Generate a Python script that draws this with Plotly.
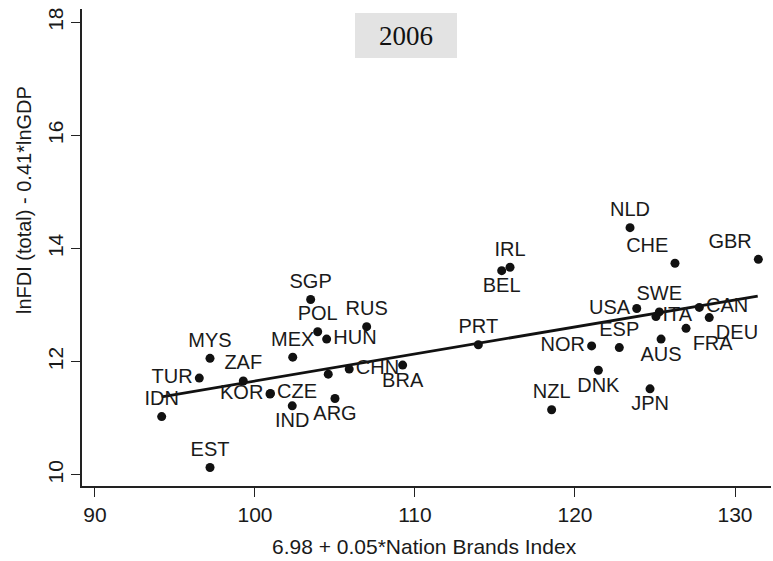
import plotly.graph_objects as go

countries = ["IDN", "TUR", "MYS", "ZAF", "KOR", "CZE", "IND", "ARG", "MEX", "SGP",
             "POL", "HUN", "RUS", "", "CHN", "BRA", "EST", "NLD", "CHE", "GBR",
             "IRL", "BEL", "PRT", "USA", "SWE", "ITA", "CAN", "DEU", "FRA", "AUS",
             "ESP", "NOR", "DNK", "NZL", "JPN"]
nbi = [94.17, 96.52, 97.19, 99.27, 100.94, 100.97, 102.33, 105.00, 102.36, 103.48,
       103.92, 104.48, 106.98, 104.58, 105.89, 109.23, 97.19, 123.44, 126.25, 131.46,
       115.94, 115.42, 113.96, 123.86, 125.27, 125.06, 127.77, 128.39, 126.94, 125.38,
       122.77, 121.04, 121.46, 118.54, 124.69]
fdi = [11.03, 11.71, 12.06, 11.66, 11.43, 11.44, 11.22, 11.35, 12.08, 13.10,
       12.53, 12.40, 12.62, 11.78, 11.87, 11.94, 10.13, 14.37, 13.74, 13.81,
       13.67, 13.61, 12.30, 12.94, 12.88, 12.80, 12.96, 12.78, 12.59, 12.40,
       12.25, 12.28, 11.85, 11.15, 11.52]
label_pos = ["top center", "middle left", "top center", "top center", "middle left",
             "middle right", "bottom center", "bottom center", "top center", "top center",
             "top center", "middle right", "top center", "top center", "middle right",
             "bottom center", "top center", "top center", "top left", "top left",
             "top center", "bottom center", "top center", "middle left", "top center",
             "middle right", "middle right", "bottom right", "bottom right", "bottom center",
             "top center", "middle left", "bottom center", "top center", "bottom center"]

fit_x = [94.17, 131.42]
fit_y = [11.38, 13.16]

x_ticks = [90, 100, 110, 120, 130]
y_ticks = [10, 12, 14, 16, 18]

sans = "Liberation Sans, Arial, sans-serif"
serif = "Liberation Serif, Times New Roman, serif"

fig = go.Figure()
fig.add_trace(go.Scatter(
    x=fit_x, y=fit_y, mode="lines",
    line=dict(color="#111111", width=2.8), hoverinfo="skip", showlegend=False,
    cliponaxis=False))
fig.add_trace(go.Scatter(
    x=nbi, y=fdi, mode="markers+text", text=countries, textposition=label_pos,
    marker=dict(color="#111111", size=9),
    textfont=dict(family=sans, size=20, color="#1a1a1a"),
    showlegend=False, cliponaxis=False))

L, R, T, B = 82, 2, 9, 75
W, H = 773, 561
pw, ph = W - L - R, H - T - B

def px(xp):
    return (xp - L) / pw

def py(yp):
    return (H - B - yp) / ph

fig.add_shape(type="rect", xref="paper", yref="paper",
              x0=px(355), x1=px(457), y0=py(58), y1=py(13),
              line=dict(width=0), fillcolor="#e3e3e3", layer="below")
fig.add_annotation(text="2006", xref="paper", yref="paper", x=px(406), y=py(36),
                   showarrow=False, font=dict(family=serif, size=27, color="#111111"),
                   xanchor="center", yanchor="middle")
fig.add_annotation(text="lnFDI (total) - 0.41*lnGDP", xref="paper", yref="paper",
                   x=px(24), y=py(200), textangle=-90, showarrow=False,
                   font=dict(family=sans, size=20, color="#1a1a1a"),
                   xanchor="center", yanchor="middle")
fig.add_annotation(text="6.98 + 0.05*Nation Brands Index", xref="paper", yref="paper",
                   x=px(424), y=py(546), showarrow=False,
                   font=dict(family=sans, size=21, color="#1a1a1a"),
                   xanchor="center", yanchor="middle")

fig.update_layout(
    width=W, height=H, margin=dict(l=L, r=R, t=T, b=B, autoexpand=False),
    plot_bgcolor="white", paper_bgcolor="white",
    xaxis=dict(range=[89.19, 132.25], tickvals=x_ticks, showgrid=False, zeroline=False,
               showline=True, linecolor="#222222", linewidth=1.5, automargin=False,
               ticks="outside", ticklen=9, tickcolor="#222222", tickwidth=1.2,
               tickfont=dict(family=sans, size=21, color="#1a1a1a")),
    yaxis=dict(range=[9.803, 18.235], tickvals=y_ticks, showgrid=False, zeroline=False,
               showline=True, linecolor="#222222", linewidth=1.5, automargin=False,
               ticks="outside", ticklen=9, tickcolor="#222222", tickwidth=1.2,
               tickangle=-90,
               tickfont=dict(family=sans, size=21, color="#1a1a1a")),
)

fig.write_html("out.html", config={"displayModeBar": False},
               post_script="document.body.style.margin='0';document.body.style.overflow='hidden';")
